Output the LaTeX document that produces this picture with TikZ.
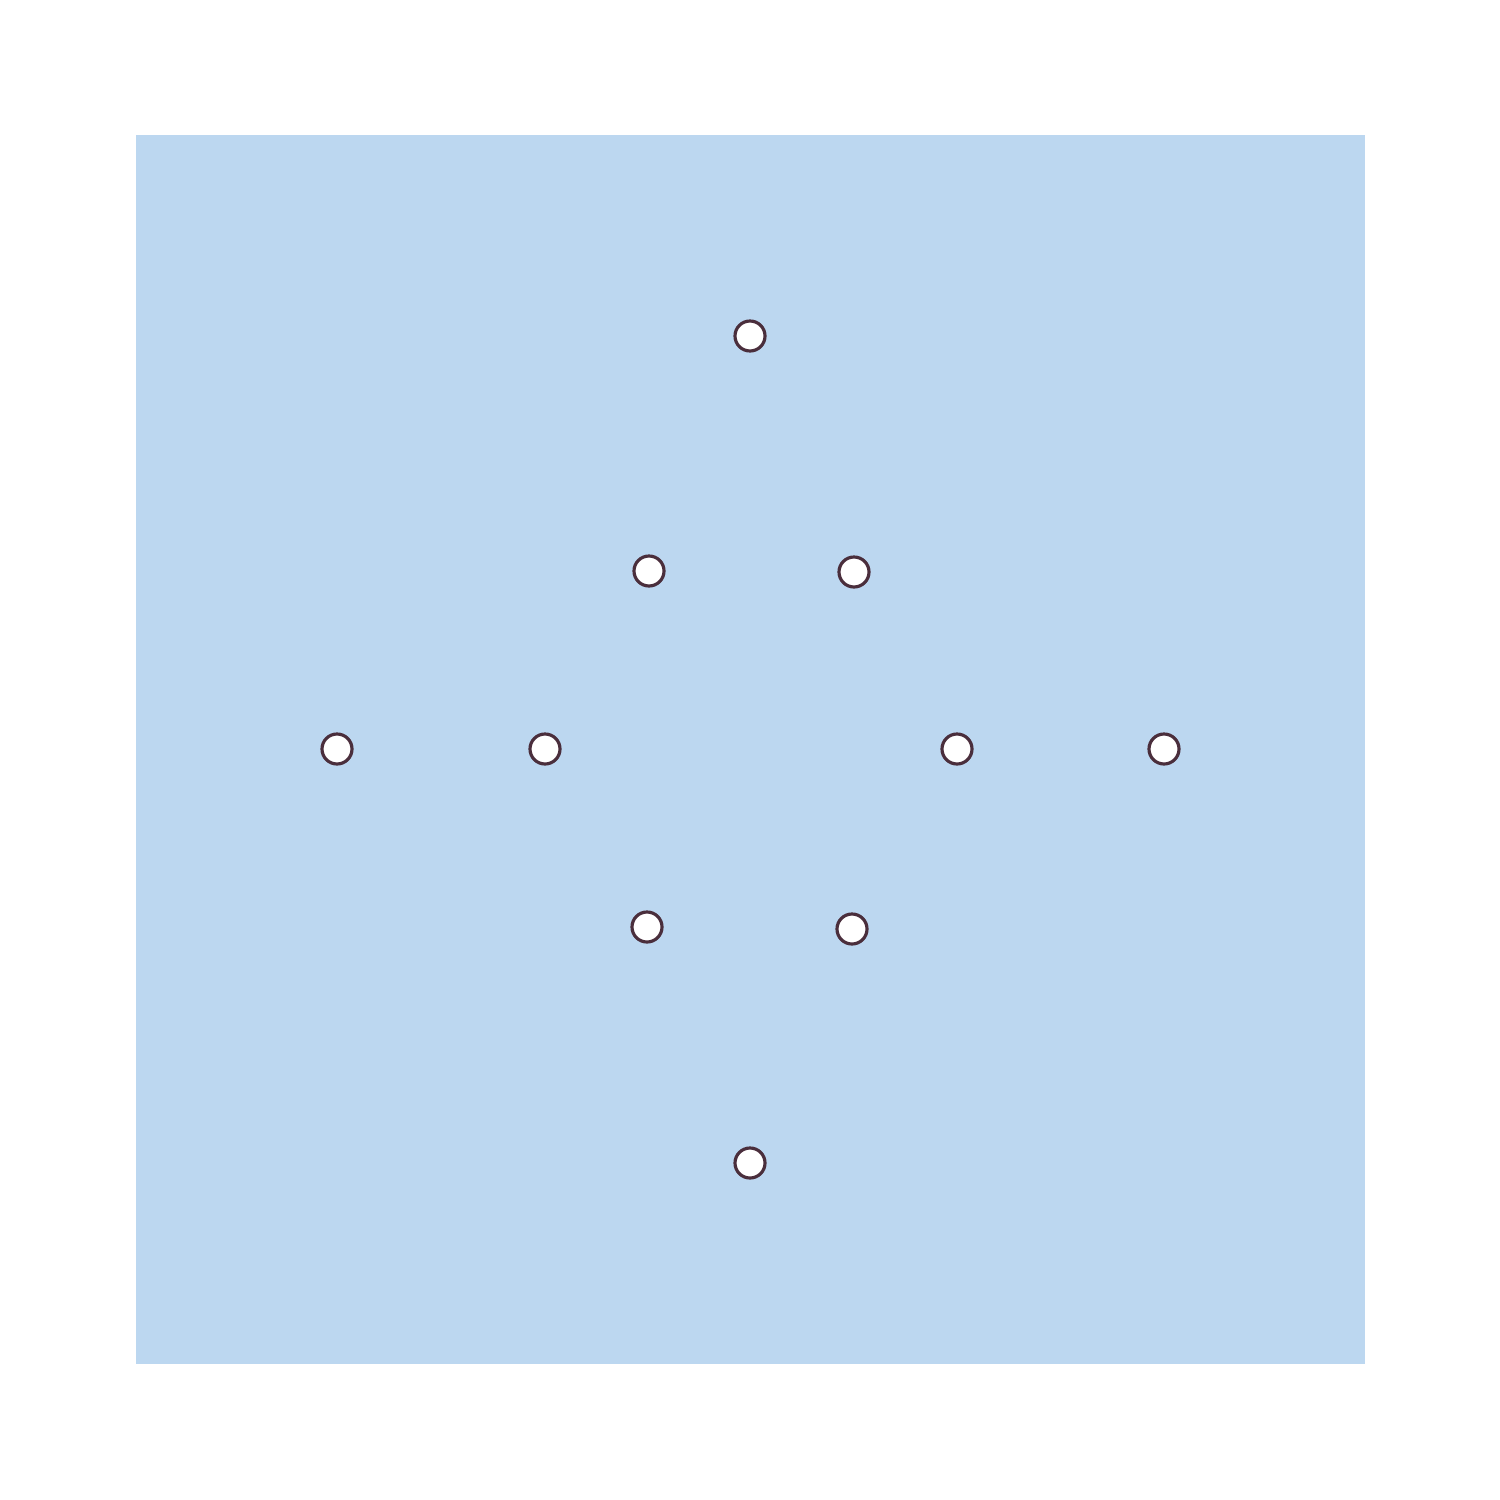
\documentclass[tikz,border=0pt]{standalone}
\begin{document}
\begin{tikzpicture}[x=0.01cm,y=-0.01cm,
  hole/.style={circle,draw=holeedge,fill=white,line width=0.9pt,minimum size=0.3cm,inner sep=0pt}]
\definecolor{plate}{HTML}{BCD7F0}
\definecolor{holeedge}{HTML}{4A2E3C}
\useasboundingbox (0,0) rectangle (1500,1500);
\fill[white] (0,0) rectangle (1500,1500);
\fill[plate] (136,135) rectangle (1365,1364);
\node[hole] (h1) at (750,336) {};
\node[hole] (h2) at (649,571) {};
\node[hole] (h3) at (854,572) {};
\node[hole] (h4) at (337,749) {};
\node[hole] (h5) at (545,749) {};
\node[hole] (h6) at (957,749) {};
\node[hole] (h7) at (1164,749) {};
\node[hole] (h8) at (647,927) {};
\node[hole] (h9) at (852,929) {};
\node[hole] (h10) at (750,1163) {};
\end{tikzpicture}
\end{document}
